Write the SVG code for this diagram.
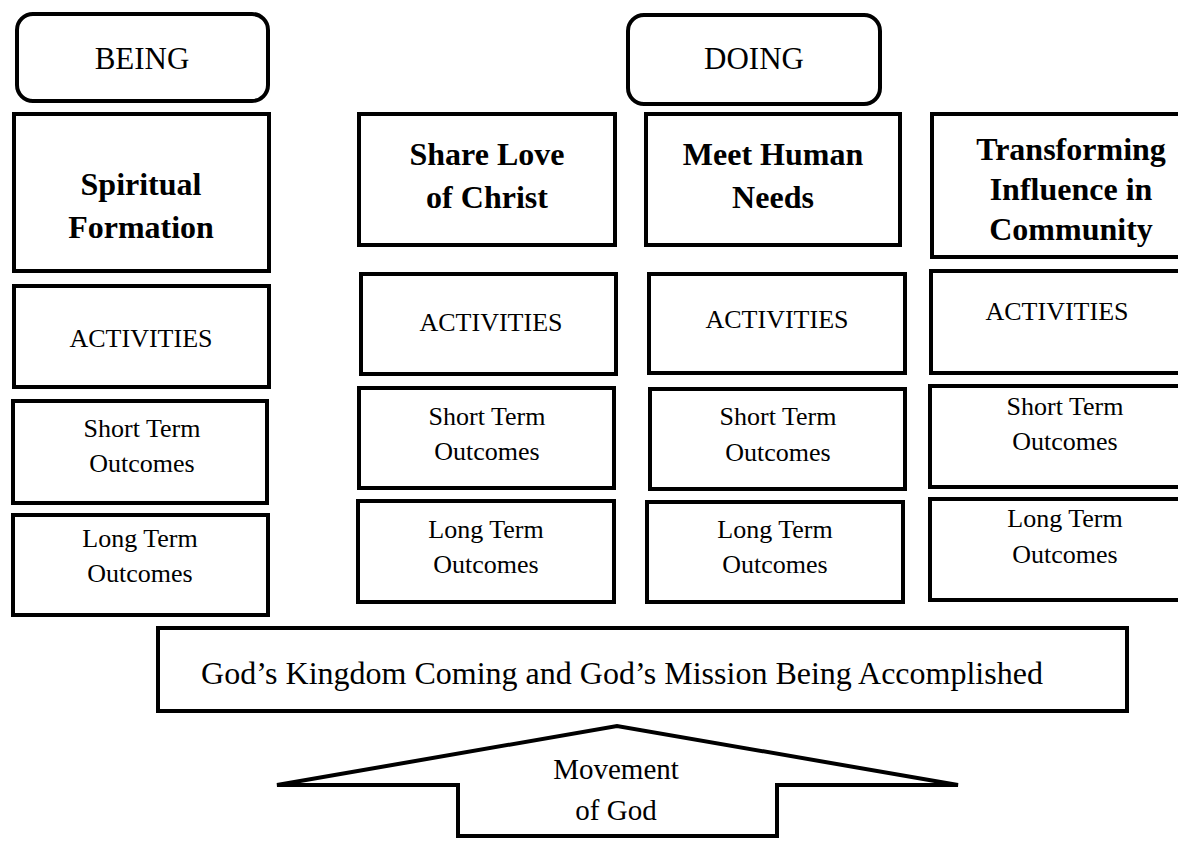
<svg xmlns="http://www.w3.org/2000/svg" width="1178" height="842" viewBox="0 0 1178 842">
<style>
.box{fill:#fff;stroke:#000;stroke-width:4}
.t{font-family:"Liberation Serif","Times New Roman",serif;fill:#000;text-anchor:middle}
.h{font-size:31px}
.b{font-size:32px;font-weight:bold}
.s{font-size:26px}
.m{font-size:32px}
.mv{font-size:29px}
</style>
<rect width="1178" height="842" fill="#fff"/>
<g id="being">
<rect class="box" x="17" y="14" width="251" height="87" rx="16"/>
<text class="t h" x="142" y="69">BEING</text>
</g>
<g id="doing">
<rect class="box" x="628" y="15" width="252" height="89" rx="16"/>
<text class="t h" x="754" y="69">DOING</text>
</g>
<g id="spiritual-formation">
<rect class="box" x="14" y="114" width="255" height="157"/>
<text class="t b" x="141" y="195">Spiritual</text>
<text class="t b" x="141" y="238">Formation</text>
</g>
<g id="share-love">
<rect class="box" x="359" y="114" width="256" height="131"/>
<text class="t b" x="487" y="165">Share Love</text>
<text class="t b" x="487" y="208">of Christ</text>
</g>
<g id="meet-needs">
<rect class="box" x="646" y="114" width="254" height="131"/>
<text class="t b" x="773" y="165">Meet Human</text>
<text class="t b" x="773" y="208">Needs</text>
</g>
<g id="transforming">
<rect class="box" x="932" y="114" width="280" height="143"/>
<text class="t b" x="1071" y="160">Transforming</text>
<text class="t b" x="1071" y="200">Influence in</text>
<text class="t b" x="1071" y="240">Community</text>
</g>
<g id="activities-1">
<rect class="box" x="14" y="286" width="255" height="101"/>
<text class="t s" x="141" y="347">ACTIVITIES</text>
</g>
<g id="activities-2">
<rect class="box" x="361" y="274" width="255" height="100"/>
<text class="t s" x="491" y="331">ACTIVITIES</text>
</g>
<g id="activities-3">
<rect class="box" x="649" y="274" width="256" height="99"/>
<text class="t s" x="777" y="328">ACTIVITIES</text>
</g>
<g id="activities-4">
<rect class="box" x="931" y="271" width="280" height="102"/>
<text class="t s" x="1057" y="320">ACTIVITIES</text>
</g>
<g id="short-1">
<rect class="box" x="13" y="401" width="254" height="102"/>
<text class="t s" x="142" y="437">Short Term</text>
<text class="t s" x="142" y="472">Outcomes</text>
</g>
<g id="short-2">
<rect class="box" x="359" y="388" width="255" height="100"/>
<text class="t s" x="487" y="425">Short Term</text>
<text class="t s" x="487" y="460">Outcomes</text>
</g>
<g id="short-3">
<rect class="box" x="650" y="389" width="255" height="100"/>
<text class="t s" x="778" y="425">Short Term</text>
<text class="t s" x="778" y="461">Outcomes</text>
</g>
<g id="short-4">
<rect class="box" x="930" y="386" width="280" height="101"/>
<text class="t s" x="1065" y="415">Short Term</text>
<text class="t s" x="1065" y="450">Outcomes</text>
</g>
<g id="long-1">
<rect class="box" x="13" y="515" width="255" height="100"/>
<text class="t s" x="140" y="547">Long Term</text>
<text class="t s" x="140" y="582">Outcomes</text>
</g>
<g id="long-2">
<rect class="box" x="358" y="501" width="256" height="101"/>
<text class="t s" x="486" y="538">Long Term</text>
<text class="t s" x="486" y="573">Outcomes</text>
</g>
<g id="long-3">
<rect class="box" x="647" y="502" width="256" height="100"/>
<text class="t s" x="775" y="538">Long Term</text>
<text class="t s" x="775" y="573">Outcomes</text>
</g>
<g id="long-4">
<rect class="box" x="930" y="499" width="280" height="101"/>
<text class="t s" x="1065" y="527">Long Term</text>
<text class="t s" x="1065" y="563">Outcomes</text>
</g>
<g id="kingdom">
<rect class="box" x="158" y="628" width="969" height="83"/>
<text class="t m" x="622" y="684">God’s Kingdom Coming and God’s Mission Being Accomplished</text>
</g>
<g id="movement">
<polygon class="box" points="277,785 617,726 958,785 777,785 777,836 458,836 458,785"/>
<text class="t mv" x="616" y="779">Movement</text>
<text class="t mv" x="616" y="820">of God</text>
</g>
<g id="connectors"/>
</svg>
